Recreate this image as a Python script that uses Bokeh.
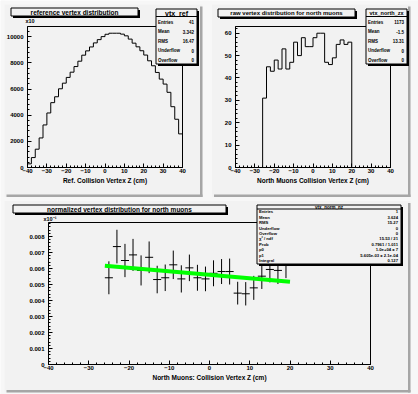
from bokeh.plotting import figure
from bokeh.layouts import column, row
from bokeh.models import Range1d, FixedTicker, CustomJSTickFormatter, GridBox
from bokeh.core.properties import value
from bokeh.embed import file_html
from bokeh.resources import INLINE

# ---------------- data ----------------
bin_width = 2.0
ref_bin_lo = -40.0
ref_counts = [280, 760, 1400, 2260, 3255, 4170, 4960, 5410, 6020, 6450,
              6890, 7290, 7720, 8130, 8590, 8920, 9220, 9530, 9780, 10010,
              10190, 10270, 10270, 10270, 10200, 10070, 9820, 9510, 9230, 8930,
              8600, 8160, 7780, 7270, 6760, 6380, 5750, 4650, 3690, 2570]

north_bin_lo = -26.0
north_counts = [31, 45, 43, 48, 44, 53, 44, 47, 56, 50, 58, 54,
                54, 58, 60, 60, 47, 46, 49, 55, 57, 55, 56]

norm_centers = [-25, -23, -21, -19, -17, -15, -13, -11, -9, -7, -5, -3,
                -1, 1, 3, 5, 7, 9, 11, 13, 15, 17, 19]
norm_values = [0.00542, 0.00737, 0.00650, 0.00685, 0.00588, 0.00670, 0.00531,
               0.00542, 0.00623, 0.00535, 0.00604, 0.00542, 0.00535, 0.00570,
               0.00581, 0.00581, 0.00446, 0.00442, 0.00479, 0.00552, 0.00594,
               0.00588, 0.00623]
norm_errors = [0.00103, 0.00105, 0.00104, 0.00100, 0.00094, 0.00099, 0.00086,
               0.00083, 0.00089, 0.00085, 0.00083, 0.00081, 0.00077, 0.00081,
               0.00078, 0.00081, 0.00071, 0.00073, 0.00075, 0.00080, 0.00081,
               0.00085, 0.00083]
fit_range = [-26.0, 20.0]
fit_p0 = 0.005605
fit_p1 = -2.174e-05

x_ticks = [-40, -30, -20, -10, 0, 10, 20, 30, 40]
x_minor = list(range(-40, 41, 2))
ref_y_ticks = [0, 2000, 4000, 6000, 8000, 10000]
ref_y_minor = list(range(0, 10801, 400))
north_y_ticks = [0, 10, 20, 30, 40, 50, 60]
north_y_minor = list(range(0, 63, 2))
norm_y_ticks = [0, 0.001, 0.002, 0.003, 0.004, 0.005, 0.006, 0.007, 0.008]
norm_y_minor = [i * 0.0002 for i in range(45)]

titles = ["reference vertex distribution",
          "raw vertex distribution for north muons",
          "normalized vertex distribution for north muons"]
xlabels = ["Ref. Collision Vertex Z (cm)",
           "North Muons Collision Vertex Z (cm)",
           "North Muons: Collision Vertex Z (cm)"]
stat_names = ["vtx_ref", "vtx_north_zx", "vtx_norm_nz"]
stat_rows_ref = [("Entries", "41"), ("Mean", "3.342"), ("RMS", "16.47"),
                 ("Underflow", "0"), ("Overflow", "0")]
stat_rows_north = [("Entries", "1173"), ("Mean", "-1.5"), ("RMS", "13.31"),
                   ("Underflow", "0"), ("Overflow", "0")]
stat_rows_norm = [("Entries", "1"), ("Mean", "3.624"), ("RMS", "15.27"),
                  ("Underflow", "0"), ("Overflow", "0"), ("χ² / ndf", "15.53 / 21"),
                  ("Prob", "0.7961 / 1.011"), ("p0", "1.0e+04 ± 7"),
                  ("p1", "5.605e-03 ± 2.1e-04"), ("Integral", "0.127")]

# ---------------- style ----------------
CANVAS = "#f7f7f7"
PAD = "#f2f2f2"
SHADOW = "#a6a6a6"
FONT = "Liberation Sans"
W, H = 418, 394


def step_path(lo, width, counts):
    xs, ys = [lo], [0]
    for i, c in enumerate(counts):
        xs += [lo + i * width, lo + (i + 1) * width]
        ys += [c, c]
    xs.append(lo + len(counts) * width)
    ys.append(0)
    return xs, ys


xfmt = CustomJSTickFormatter(code="return tick < 0 ? '\u2212' + Math.abs(tick) : String(tick);")
intfmt = CustomJSTickFormatter(code="return String(Math.round(tick));")
normfmt = CustomJSTickFormatter(code="return tick == 0 ? '0' : tick.toFixed(3);")


def make_fig(w, h, bl, br, bt, bb, xr, yr):
    p = figure(width=w, height=h, x_range=xr, y_range=yr, output_backend="svg",
               toolbar_location=None, title=None, min_border_left=bl, min_border_right=br,
               min_border_top=bt, min_border_bottom=bb)
    p.background_fill_color = PAD
    p.border_fill_color = PAD
    p.outline_line_color = "black"
    p.outline_line_width = 1
    p.grid.visible = False
    return p


def style_axes(p, yt, ym, yfmt, xlabel):
    p.xaxis.ticker = FixedTicker(ticks=x_ticks, minor_ticks=x_minor)
    p.yaxis.ticker = FixedTicker(ticks=yt, minor_ticks=ym)
    p.xaxis.formatter = xfmt
    p.yaxis.formatter = yfmt
    for ax in (p.xaxis[0], p.yaxis[0]):
        ax.major_tick_in = 4
        ax.major_tick_out = 0
        ax.minor_tick_in = 2
        ax.minor_tick_out = 0
        ax.axis_line_color = "black"
        ax.major_tick_line_color = "black"
        ax.minor_tick_line_color = "black"
        ax.major_label_text_font = FONT
        ax.major_label_text_font_style = "bold"
        ax.major_label_text_font_size = "6px"
        ax.major_label_text_color = "black"
    p.xaxis.major_label_standoff = 1
    p.yaxis.major_label_standoff = 4
    p.xaxis.axis_label = xlabel
    p.xaxis.axis_label_text_font = FONT
    p.xaxis.axis_label_text_font_style = "bold"
    p.xaxis.axis_label_text_font_size = "6.5px"
    p.xaxis.axis_label_standoff = 1
    p.xaxis.axis_label_text_color = "black"


# ---------------- pad 1: reference ----------------
p1 = make_fig(209, 197, 27, 27, 26, 30, Range1d(-40, 40), Range1d(0, 10784))
style_axes(p1, ref_y_ticks, ref_y_minor, intfmt, xlabels[0])
xs, ys = step_path(ref_bin_lo, bin_width, ref_counts)
p1.line(xs, ys, line_color="black", line_width=1)

# ---------------- pad 2: north raw ----------------
p2 = make_fig(209, 197, 26, 28, 26, 30, Range1d(-40, 40), Range1d(0, 63))
style_axes(p2, north_y_ticks, north_y_minor, intfmt, xlabels[1])
xs, ys = step_path(north_bin_lo, bin_width, north_counts)
p2.line(xs, ys, line_color="black", line_width=1)

# ---------------- pad 3: normalized ----------------
p3 = make_fig(418, 197, 48, 48, 25, 30, Range1d(-40, 40), Range1d(0, 0.008875))
style_axes(p3, norm_y_ticks, norm_y_minor, normfmt, xlabels[2])
half = bin_width / 2
p3.segment(x0=[c - half for c in norm_centers], x1=[c + half for c in norm_centers],
           y0=norm_values, y1=norm_values, line_color="black", line_width=1)
p3.segment(x0=norm_centers, x1=norm_centers,
           y0=[v - e for v, e in zip(norm_values, norm_errors)],
           y1=[v + e for v, e in zip(norm_values, norm_errors)],
           line_color="black", line_width=1)
p3.line(fit_range, [fit_p0 + fit_p1 * x for x in fit_range], line_color="#00ff00", line_width=4)

# ---------------- transparent overlay with the canvas decorations ----------------
deco = figure(width=W, height=H, x_range=Range1d(0, W), y_range=Range1d(H, 0),
              output_backend="svg", toolbar_location=None, title=None,
              x_axis_location=None, y_axis_location=None, min_border=0)
deco.background_fill_color = None
deco.border_fill_color = None
deco.outline_line_color = None
deco.grid.visible = False


def rect(x0, y0, x1, y1, fill=None, line=None):
    deco.quad(left=[x0], right=[x1], top=[y0], bottom=[y1],
              fill_color=fill, fill_alpha=1 if fill else 0,
              line_color=line, line_width=1)


def txt(x, y, s, size, align="left", bold=True):
    deco.text(x=[x], y=[y], text=[s], text_font=value(FONT), text_font_size=value(size),
              text_font_style="bold" if bold else "normal", text_align=align,
              text_baseline="middle", text_color="black")


def shadow_box(x0, y0, x1, y1, sh=2):
    rect(x0 + sh, y0 + sh, x1 + sh, y1 + sh, fill="black")
    rect(x0, y0, x1, y1, fill=PAD, line="black")


def stat(x0, y0, x1, y1, title, rows, title_size, row_size, title_h, first_row, row_h):
    shadow_box(x0, y0, x1, y1)
    txt((x0 + x1) / 2, y0 + title_h / 2 + 0.3, title, title_size, align="center")
    rect(x0, y0 + title_h - 0.5, x1, y0 + title_h + 0.5, fill="black")
    for i, (k, v) in enumerate(rows):
        yc = first_row + row_h * i
        txt(x0 + 2, yc, k, row_size)
        txt(x1 - 3, yc, v, row_size, align="right")


# canvas around the pads
rect(0, 0, 4, H, fill=CANVAS)
rect(0, 0, W, 4, fill=CANVAS)
rect(410, 0, W, H, fill=CANVAS)
rect(0, 392, W, H, fill=CANVAS)
rect(202, 0, 211.5, 200.5, fill=CANVAS)
rect(0, 196.5, W, 200.5, fill=CANVAS)
# pad bevel shadows
rect(199.5, 6, 202, 196.5, fill=SHADOW)
rect(6, 194, 202, 196.5, fill=SHADOW)
rect(407.5, 6, 410, 196.5, fill=SHADOW)
rect(213.5, 194, 410, 196.5, fill=SHADOW)
rect(407.5, 202.5, 410, 392, fill=SHADOW)
rect(6, 389.5, 410, 392, fill=SHADOW)

# pad 1 decorations
shadow_box(10.5, 7.5, 137.5, 15.5)
txt(74, 11.7, titles[0], "6.5px", align="center")
txt(25, 20.5, "x10", "5.5px")
stat(155.5, 8.5, 196.5, 63.5, stat_names[0], stat_rows_ref, "7px", "4.5px", 7.5, 21.5, 9.5)

# pad 2 decorations
shadow_box(217.5, 8.5, 354.5, 16.5)
txt(286, 12.5, titles[1], "6px", align="center")
stat(365.5, 8.5, 406.5, 63.5, stat_names[1], stat_rows_north, "5.5px", "4.5px", 7.5, 21.5, 9.5)

# pad 3 decorations
shadow_box(12.5, 204.5, 225.5, 212.5)
txt(119, 208.7, titles[2], "6.5px", align="center")
txt(43, 218, "x10\u207b\u00b9", "5.5px")
stat(256.5, 204.5, 400.5, 263.5, stat_names[2], stat_rows_norm, "4.5px", "4.2px", 4, 211.2, 5.45)

pads = column(row(p1, p2, spacing=0), p3, spacing=0)
layout = GridBox(children=[(pads, 0, 0), (deco, 0, 0)], spacing=0)
open("out.html", "w").write(file_html(layout, INLINE))
